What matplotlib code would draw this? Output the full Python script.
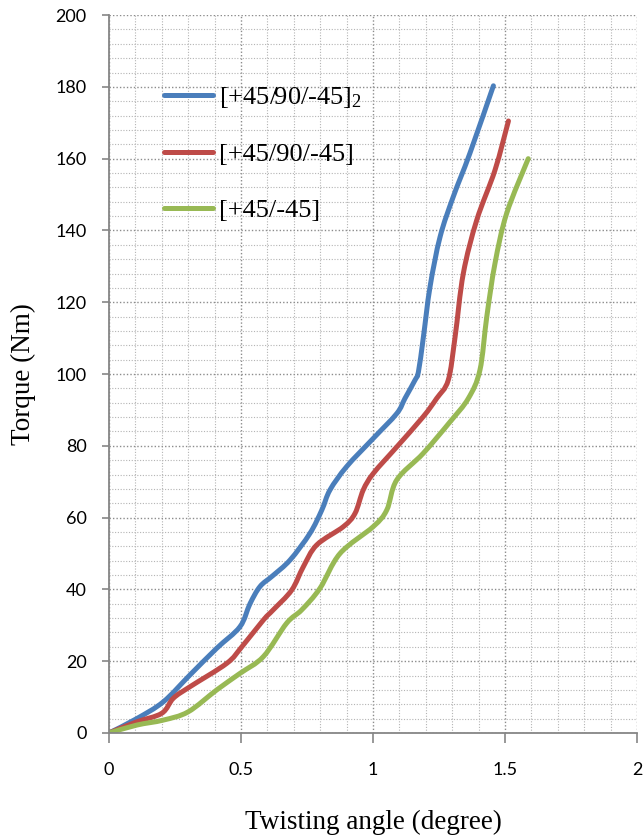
import matplotlib
matplotlib.use("Agg")
import numpy as np
import matplotlib.pyplot as plt
from matplotlib.lines import Line2D
from matplotlib.path import Path
from matplotlib.patches import PathPatch
from matplotlib.ticker import MultipleLocator

# twisting angle (degree) and torque (Nm)
angle_3ply2 = [0, 0.105, 0.206, 0.307, 0.408, 0.496, 0.534, 0.572, 0.62, 0.686, 0.761, 0.806,
               0.837, 0.90, 1.0, 1.09, 1.121, 1.159, 1.172, 1.191, 1.216, 1.254, 1.304, 1.367, 1.456]
torque_3ply2 = [0, 4.0, 8.7, 16.2, 23.6, 29.6, 36.0, 40.8, 43.8, 48.2, 55.6, 62.1,
                67.7, 74.2, 82.0, 89.0, 93.2, 98.3, 100.6, 110.4, 124.3, 138.2, 149.4, 161.5, 180.3]

angle_3ply = [0, 0.105, 0.2, 0.244, 0.307, 0.446, 0.503, 0.585, 0.622, 0.692, 0.736, 0.787,
              0.888, 0.932, 0.963, 1.001, 1.09, 1.19, 1.241, 1.285, 1.311, 1.342, 1.393, 1.462, 1.513]
torque_3ply = [0, 3.1, 5.5, 9.7, 12.9, 19.4, 24.0, 31.5, 34.3, 39.8, 46.3, 52.4,
               57.5, 61.2, 67.7, 72.3, 79.7, 88.1, 93.2, 98.3, 110.4, 128.0, 142.9, 156.8, 170.5]

angle_2ply = [0, 0.105, 0.206, 0.300, 0.408, 0.496, 0.585, 0.673, 0.73, 0.799, 0.875,
              1.001, 1.052, 1.09, 1.19, 1.292, 1.361, 1.405, 1.431, 1.462, 1.506, 1.588]
torque_2ply = [0, 2.2, 3.6, 5.9, 12.0, 16.6, 21.3, 30.6, 34.3, 40.3, 50.0,
               57.5, 62.1, 70.5, 77.9, 86.7, 93.2, 101.1, 116.0, 130.8, 144.7, 160.0]

labels = ["[+45/90/-45]$_2$", "[+45/90/-45]", "[+45/-45]"]
colors = ["#4A7EBB", "#BE4B48", "#98B954"]

plt.rcParams["mathtext.fontset"] = "custom"
plt.rcParams["mathtext.rm"] = "Liberation Serif"
plt.rcParams["mathtext.it"] = "Liberation Serif"


def smooth_path(x, y):
    # excel-style smoothed line: the points joined by cubic bezier segments
    p = np.column_stack([x, y]).astype(float)
    verts = [p[0]]
    codes = [Path.MOVETO]
    for i in range(len(p) - 1):
        p0 = p[i - 1] if i > 0 else p[i]
        p3 = p[i + 2] if i + 2 < len(p) else p[i + 1]
        c1 = p[i] + (p[i + 1] - p0) / 6
        c2 = p[i + 1] - (p3 - p[i]) / 6
        verts += [c1, c2, p[i + 1]]
        codes += [Path.CURVE4] * 3
    return Path(verts, codes)


fig = plt.figure(figsize=(6.43, 8.38), dpi=100)
ax = fig.add_axes([0.1695, 0.1253, 0.8212, 0.8567])

series = [(angle_3ply2, torque_3ply2), (angle_3ply, torque_3ply), (angle_2ply, torque_2ply)]
handles = []
for (x, y), label, color in zip(series, labels, colors):
    ax.add_patch(PathPatch(smooth_path(x, y), fill=False, edgecolor=color, lw=3.6,
                           capstyle="round", joinstyle="round"))
    handles.append(Line2D([], [], color=color, lw=3.6, solid_capstyle="round", label=label))

ax.set_xlim(0, 2)
ax.set_ylim(0, 200)
ax.set_xticks([0, 0.5, 1, 1.5, 2], ["0", "0.5", "1", "1.5", "2"])
ax.xaxis.set_minor_locator(MultipleLocator(0.1))
ax.yaxis.set_major_locator(MultipleLocator(20))
ax.yaxis.set_minor_locator(MultipleLocator(4))

ax.grid(which="major", color="#8c8c8c", linestyle=(0, (1, 1.5)), linewidth=1.0)
ax.grid(which="minor", color="#b4b4b4", linestyle=(0, (1, 1.5)), linewidth=0.8)
ax.set_axisbelow(True)

for side in ["top", "right"]:
    ax.spines[side].set_visible(False)
for side in ["left", "bottom"]:
    ax.spines[side].set_color("#868686")
    ax.spines[side].set_linewidth(1.3)

ax.tick_params(axis="both", which="minor", length=0)
ax.tick_params(axis="y", which="major", direction="out", length=5, width=1.2, color="#868686",
               pad=11, labelsize=13)
ax.tick_params(axis="x", which="major", direction="out", length=7, width=1.2, color="#868686",
               pad=14, labelsize=13)
for lab in ax.get_xticklabels() + ax.get_yticklabels():
    lab.set_family("Lato")

ax.set_xlabel("Twisting angle (degree)", family="Liberation Serif", fontsize=19.5, labelpad=23)
ax.set_ylabel("Torque (Nm)", family="Liberation Serif", fontsize=19.5, labelpad=14)

ax.legend(handles=handles, loc="upper left", bbox_to_anchor=(0.06, 0.935), frameon=False,
          prop={"family": "Liberation Serif", "size": 19}, handlelength=1.85,
          handletextpad=0.2, labelspacing=1.23)

fig.savefig("out.png", dpi=100)
